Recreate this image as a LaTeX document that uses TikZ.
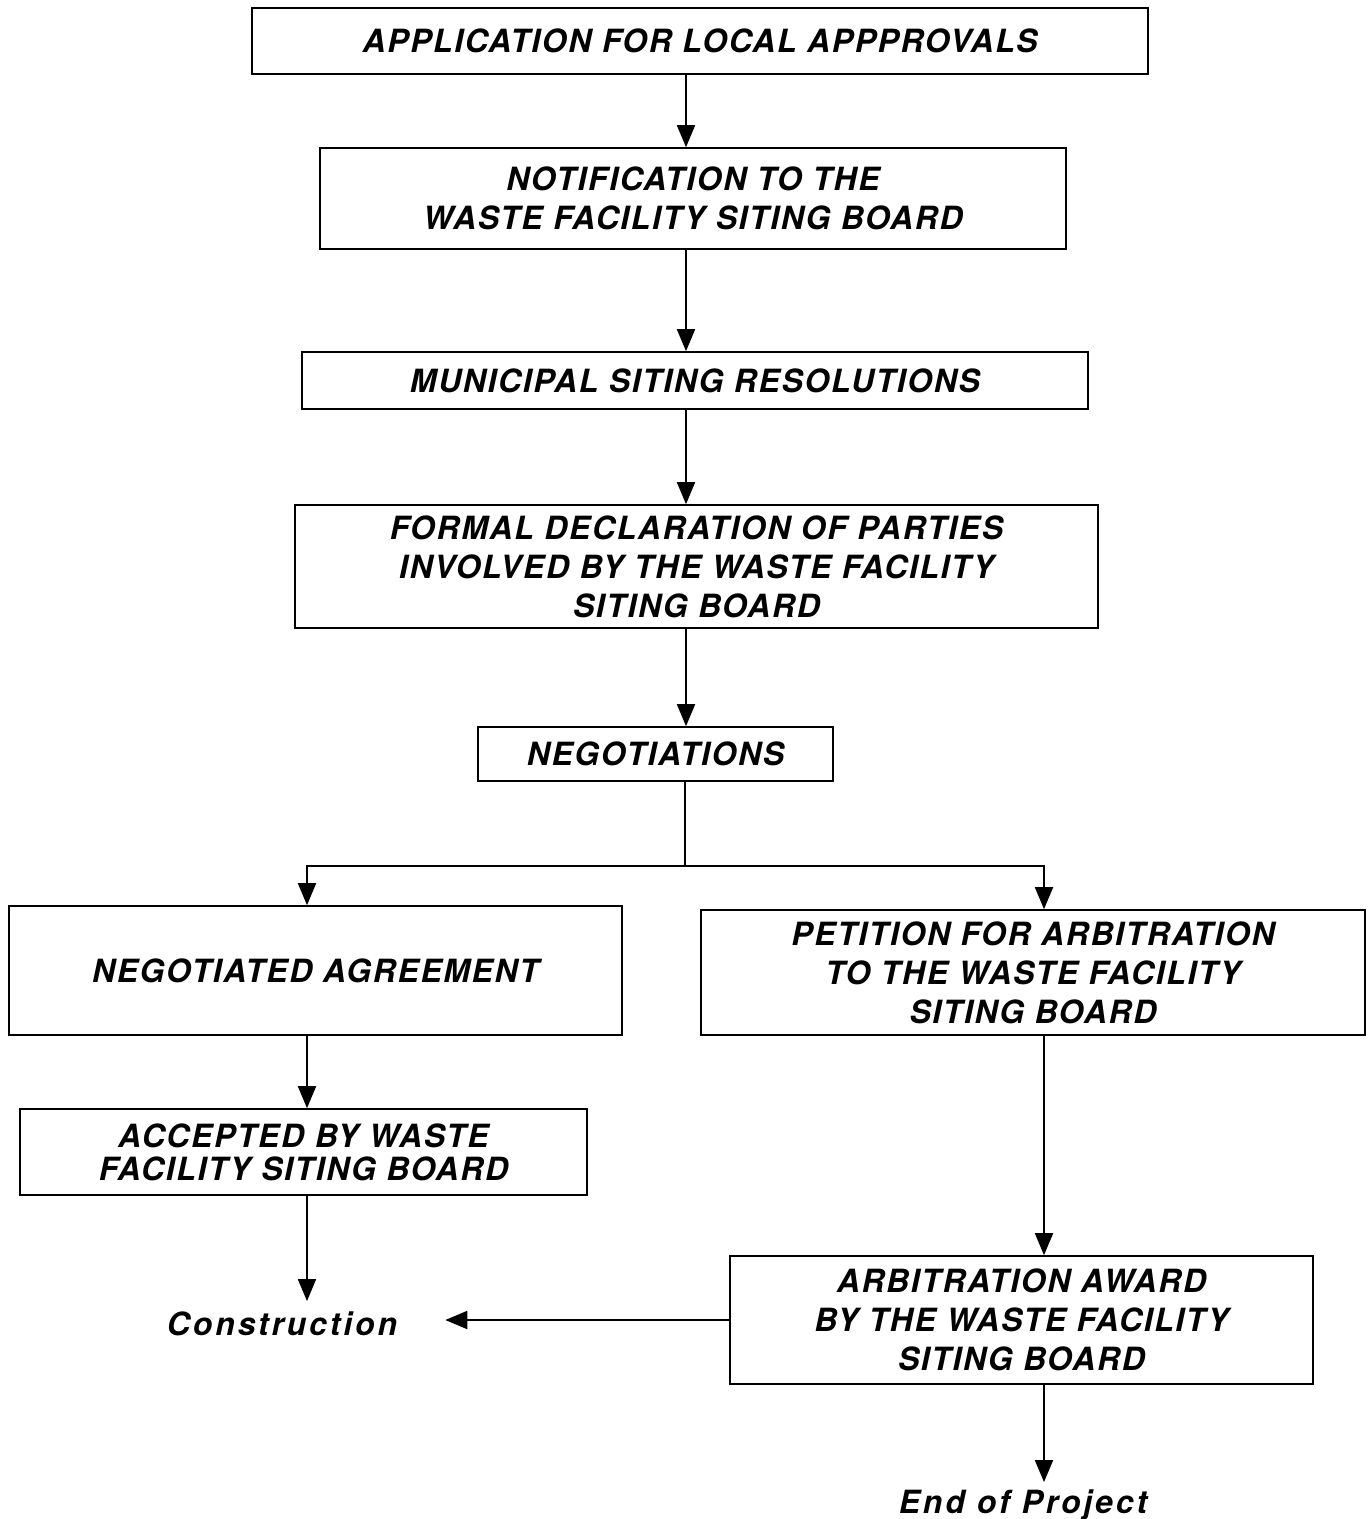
\documentclass[tikz,border=0pt]{standalone}
\usepackage{fontspec}
\setmainfont{TeX Gyre Heros}
\usetikzlibrary{arrows.meta}
\begin{document}
\begin{tikzpicture}[x=1pt,y=-1pt,
  box/.style={draw, line width=1.6pt, inner sep=0pt, align=center,
    font=\fontsize{32}{39}\selectfont\bfseries\itshape\addfontfeature{LetterSpace=5}},
  lbl/.style={inner sep=0pt, font=\fontsize{32}{38}\selectfont\bfseries\itshape\addfontfeature{LetterSpace=9}},
  arr/.style={line width=1.8pt, -{Triangle[width=18pt,length=22pt]}},
  ln/.style={line width=1.8pt}]
\useasboundingbox (0,0) rectangle (1372,1519);
\coordinate (spine) at (686,0);
\coordinate (lx) at (307,0);
\coordinate (rx) at (1044,0);
\coordinate (fork) at (685,866);
\node[box, minimum width=896pt, minimum height=66pt] (b1) at (700,41) {APPLICATION FOR LOCAL APPPROVALS};
\node[box, minimum width=746pt, minimum height=101pt] (b2) at (693,198.5) {NOTIFICATION TO THE\\WASTE FACILITY SITING BOARD};
\node[box, minimum width=786pt, minimum height=57pt] (b3) at (695,380.5) {MUNICIPAL SITING RESOLUTIONS};
\node[box, minimum width=803pt, minimum height=123pt] (b4) at (696.5,566.5) {FORMAL DECLARATION OF PARTIES\\INVOLVED BY THE WASTE FACILITY\\SITING BOARD};
\node[box, minimum width=355pt, minimum height=54pt] (b5) at (655.5,754) {NEGOTIATIONS};
\node[box, minimum width=613pt, minimum height=129pt] (b6) at (315.5,970.5) {NEGOTIATED AGREEMENT};
\node[box, minimum width=664pt, minimum height=125pt] (b7) at (1033,972.5) {PETITION FOR ARBITRATION\\TO THE WASTE FACILITY\\SITING BOARD};
\node[box, minimum width=567pt, minimum height=86pt, font=\fontsize{32}{33}\selectfont\bfseries\itshape\addfontfeature{LetterSpace=5}] (b8) at (303.5,1152) {ACCEPTED BY WASTE\\FACILITY SITING BOARD};
\node[box, minimum width=583pt, minimum height=128pt] (b9) at (1021.5,1320) {ARBITRATION AWARD\\BY THE WASTE FACILITY\\SITING BOARD};
\node[lbl, anchor=base] (cons) at (282,1335) {Construction};
\node[lbl, anchor=base] (end) at (1023,1513) {End of Project};
\draw[arr] (b1.south -| spine) -- (b2.north -| spine);
\draw[arr] (b2.south -| spine) -- (b3.north -| spine);
\draw[arr] (b3.south -| spine) -- (b4.north -| spine);
\draw[arr] (b4.south -| spine) -- (b5.north -| spine);
\draw[ln] (b5.south -| fork) -- (fork);
\draw[arr] (fork) -| (b6.north -| lx);
\draw[arr] (fork) -| (b7.north -| rx);
\draw[arr] (b6.south -| lx) -- (b8.north -| lx);
\draw[arr] (b8.south -| lx) -- ([yshift=10pt]cons.north -| lx);
\draw[arr] (b7.south -| rx) -- (b9.north -| rx);
\draw[arr] (b9.west) -- ([xshift=48pt]cons.east |- b9.west);
\draw[arr] (b9.south -| rx) -- ([yshift=7pt]end.north -| rx);
\end{tikzpicture}
\end{document}
